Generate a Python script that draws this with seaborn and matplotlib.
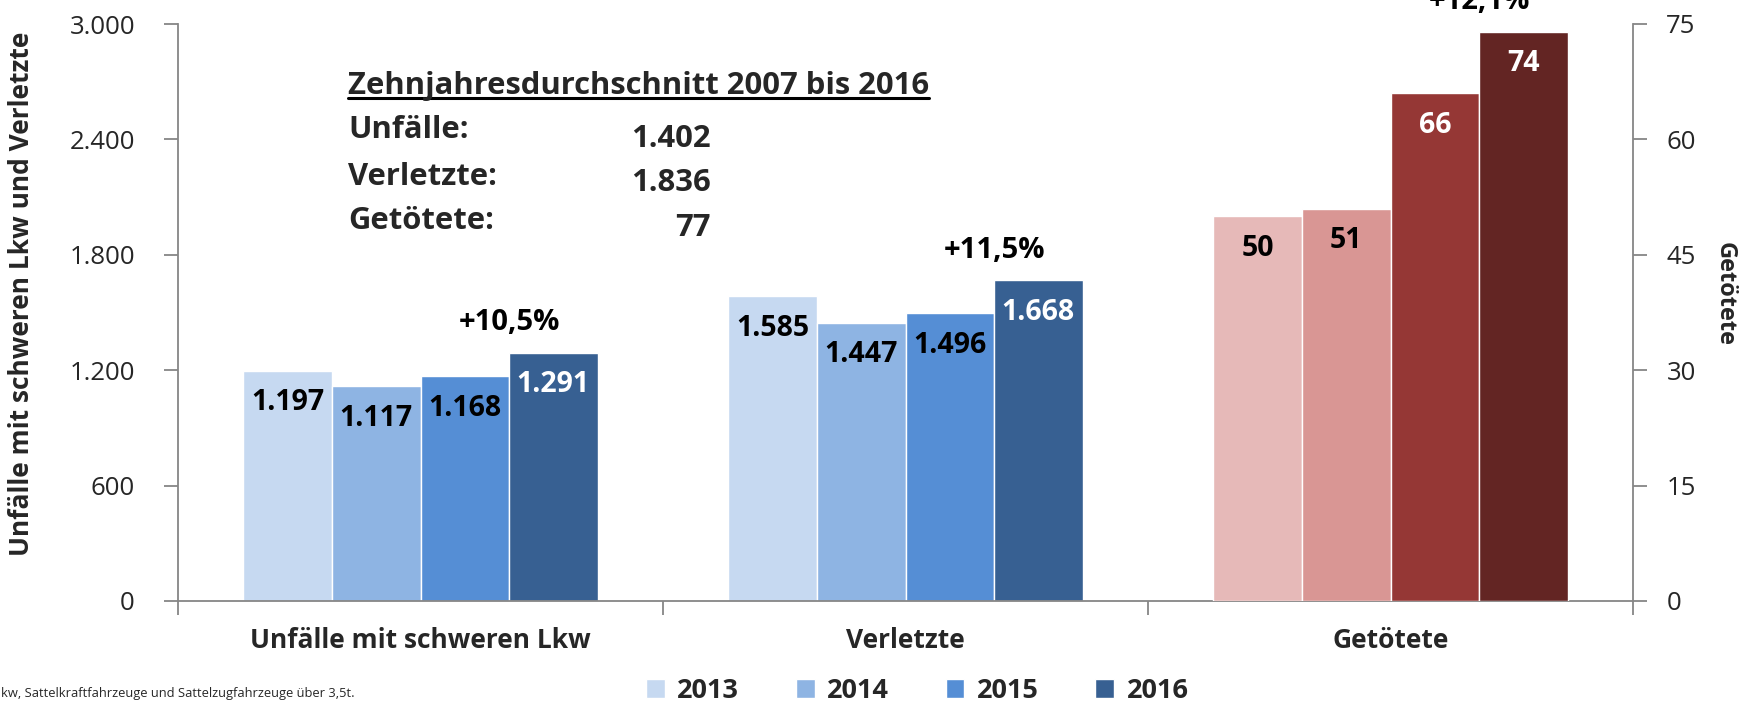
import matplotlib
matplotlib.use("Agg")
import matplotlib.pyplot as plt
import seaborn as sns
import pandas as pd
from matplotlib.lines import Line2D

# ---------------- data ----------------
categories = ["Unfälle mit schweren Lkw", "Verletzte", "Getötete"]
years = ["2013", "2014", "2015", "2016"]
unfaelle = [1197, 1117, 1168, 1291]
verletzte = [1585, 1447, 1496, 1668]
getoetete = [50, 51, 66, 74]
pct_labels = ["+10,5%", "+11,5%", "+12,1%"]
left_ticks = [0, 600, 1200, 1800, 2400, 3000]
right_ticks = [0, 15, 30, 45, 60, 75]
avg_title = "Zehnjahresdurchschnitt 2007 bis 2016"
avg_names = ["Unfälle:", "Verletzte:", "Getötete:"]
avg_values = [1402, 1836, 77]
footnote = "kw, Sattelkraftfahrzeuge und Sattelzugfahrzeuge über 3,5t."
left_label = "Unfälle mit schweren Lkw und Verletzte"
right_label = "Getötete"

# ---------------- styles ----------------
blues = ["#C6D9F1", "#8EB4E3", "#558ED5", "#376092"]
reds = ["#E6B9B8", "#D99694", "#953735", "#632523"]
blue_label_colors = ["black", "black", "black", "white"]
red_label_colors = ["black", "black", "white", "white"]
GREY = "#868686"


def de(v):
    return f"{v:,.0f}".replace(",", ".")


df_left = pd.DataFrame({
    "Kategorie": [categories[0]] * 4 + [categories[1]] * 4,
    "Jahr": years * 2,
    "Wert": unfaelle + verletzte,
})
df_right = pd.DataFrame({
    "Kategorie": [categories[2]] * 4,
    "Jahr": years,
    "Wert": getoetete,
})

sns.set_style("white")
plt.rcParams["font.family"] = ["Open Sans", "DejaVu Sans"]

W, H = 1742, 705
fig = plt.figure(figsize=(W / 100, H / 100), dpi=100)
ax1 = fig.add_axes([178 / W, 1 - 601 / H, (1633 - 178) / W, (601 - 24) / H])
ax2 = ax1.twinx()

sns.barplot(data=df_left, x="Kategorie", y="Wert", hue="Jahr", order=categories,
            hue_order=years, palette=blues, width=0.73, saturation=1, ax=ax1,
            legend=True)
sns.barplot(data=df_right, x="Kategorie", y="Wert", hue="Jahr", order=categories,
            hue_order=years, palette=reds, width=0.73, saturation=1, ax=ax2,
            legend=False)

# axes limits / ticks
ax1.set_ylim(0, 3000)
ax2.set_ylim(0, 75)
ax1.set_xlim(-0.5, 2.5)
ax1.set_yticks(left_ticks)
ax1.set_yticklabels([de(v) for v in left_ticks], fontsize=18.5)
ax2.set_yticks(right_ticks)
ax2.set_yticklabels([str(v) for v in right_ticks], fontsize=18.5)
ax1.set_xticks([-0.5, 0.5, 1.5, 2.5])
ax1.set_xticklabels([""] * 4)
ax1.set_xticks([0, 1, 2], minor=True)
ax1.set_xticklabels(categories, minor=True, fontsize=19, fontweight="bold")
ax1.tick_params(axis="x", which="major", bottom=True, length=10, width=1.3,
                color=GREY, direction="out")
ax1.tick_params(axis="x", which="minor", bottom=True, length=0, pad=19)
ax1.tick_params(axis="y", left=True, length=10, width=1.3, color=GREY,
                direction="out", pad=21)
ax2.tick_params(axis="y", right=True, length=10, width=1.3, color=GREY,
                direction="out", pad=14)
ax1.set_xlabel("")
ax1.set_ylabel("")
ax2.set_xlabel("")
ax2.set_ylabel("")
for ax in (ax1, ax2):
    for s in ax.spines.values():
        s.set_visible(False)
    ax.grid(False)
ax1.spines["left"].set_visible(True)
ax1.spines["bottom"].set_visible(True)
ax2.spines["right"].set_visible(True)
for s in (ax1.spines["left"], ax1.spines["bottom"], ax2.spines["right"]):
    s.set_color(GREY)
    s.set_linewidth(1.3)

# value labels inside bars
for ax, cols in ((ax1, blue_label_colors), (ax2, red_label_colors)):
    for cont, col in zip(ax.containers, cols):
        for rect, val in zip(cont.patches, cont.datavalues):
            ax.annotate(de(val), (rect.get_x() + rect.get_width() / 2, rect.get_height()),
                        xytext=(0, -23), textcoords="offset points", ha="center",
                        va="center", fontsize=20.5, fontweight="bold", color=col)

# percentage labels above the 2016 bars
last_left = ax1.containers[-1]
last_right = ax2.containers[-1]
targets = [(ax1, last_left.patches[0]), (ax1, last_left.patches[1]),
           (ax2, last_right.patches[0])]
for (ax, rect), txt in zip(targets, pct_labels):
    ax.annotate(txt, (rect.get_x(), rect.get_height()), xytext=(0, 21.5),
                textcoords="offset points", ha="center", va="center",
                fontsize=21, fontweight="bold", color="black",
                annotation_clip=False)

# legend
handles, labels = ax1.get_legend_handles_labels()
if ax1.get_legend() is not None:
    ax1.get_legend().remove()
fig.legend(handles, labels, loc="center", bbox_to_anchor=(0.5265, 1 - 691 / H),
           ncol=4, frameon=False, handlelength=0.7, handleheight=0.7,
           handletextpad=0.45, columnspacing=2.1, borderpad=0, borderaxespad=0,
           prop={"weight": "bold", "size": 19.5})

# axis labels
fig.text(22 / W, 1 - 294 / H, left_label, rotation=90, ha="center", va="center",
         fontsize=19, fontweight="bold")
fig.text(1725 / W, 1 - 294 / H, right_label, rotation=270, ha="center", va="center",
         fontsize=17, fontweight="bold")

# ten-year average box
t_title = fig.text(348 / W, 1 - 86 / H, avg_title, ha="left", va="center",
                   fontsize=22.3, fontweight="bold")
name_y = [130, 177, 221]
val_y = [139, 183, 228]
for nm, y in zip(avg_names, name_y):
    fig.text(348 / W, 1 - y / H, nm, ha="left", va="center", fontsize=22.3,
             fontweight="bold")
for v, y in zip(avg_values, val_y):
    fig.text(711 / W, 1 - y / H, de(v), ha="right", va="center", fontsize=22.3,
             fontweight="bold")

# footnote
fig.text(1 / W, 1 - 694 / H, footnote, ha="left", va="center", fontsize=9.3)

# underline for the title
fig.canvas.draw()
bb = t_title.get_window_extent(fig.canvas.get_renderer())
inv = fig.transFigure.inverted()
(x0, y0), (x1, _) = inv.transform([(bb.x0, bb.y0), (bb.x1, bb.y0)])
fig.add_artist(Line2D([x0, x1], [y0 + 0.004, y0 + 0.004], transform=fig.transFigure,
                      color="black", linewidth=2.2))

fig.savefig("out.png", dpi=100)
